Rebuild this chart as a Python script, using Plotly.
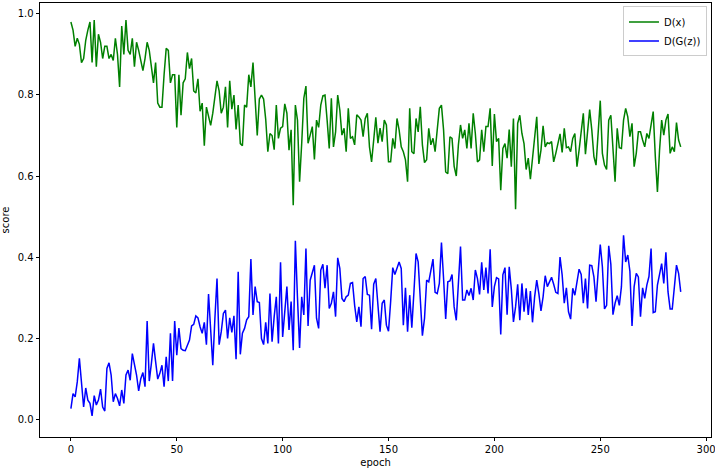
import plotly.graph_objects as go

d_x = [
    0.98, 0.96, 0.92, 0.94, 0.925, 0.88, 0.89, 0.935, 0.96, 0.98,
    0.88, 0.985, 0.87, 0.95, 0.93, 0.89, 0.92, 0.92, 0.89, 0.90,
    0.885, 0.94, 0.90, 0.82, 0.97, 0.90, 0.985, 0.91, 0.90, 0.94,
    0.87, 0.93, 0.91, 0.88, 0.86, 0.89, 0.93, 0.91, 0.87, 0.83,
    0.88, 0.78, 0.77, 0.77, 0.85, 0.915, 0.91, 0.83, 0.85, 0.85,
    0.72, 0.85, 0.75, 0.83, 0.84, 0.905, 0.865, 0.89, 0.81, 0.805,
    0.84, 0.76, 0.78, 0.675, 0.77, 0.75, 0.725, 0.755, 0.79, 0.835,
    0.81, 0.755, 0.77, 0.82, 0.72, 0.835, 0.765, 0.80, 0.715, 0.775,
    0.68, 0.675, 0.775, 0.77, 0.85, 0.82, 0.88, 0.795, 0.70, 0.79,
    0.80, 0.79, 0.74, 0.66, 0.705, 0.70, 0.665, 0.775, 0.693, 0.718,
    0.722, 0.778, 0.755, 0.664, 0.714, 0.528, 0.775, 0.738, 0.586, 0.681,
    0.792, 0.822, 0.681, 0.701, 0.722, 0.641, 0.738, 0.72, 0.775, 0.798,
    0.80, 0.738, 0.668, 0.792, 0.672, 0.709, 0.80, 0.763, 0.701, 0.718,
    0.66, 0.767, 0.693, 0.697, 0.677, 0.751, 0.746, 0.738, 0.697, 0.742,
    0.755, 0.672, 0.635, 0.689, 0.745, 0.681, 0.718, 0.685, 0.738, 0.726,
    0.635, 0.635, 0.693, 0.668, 0.742, 0.714, 0.672, 0.66, 0.64, 0.586,
    0.767, 0.66, 0.655, 0.742, 0.709, 0.771, 0.677, 0.633, 0.64, 0.718,
    0.677, 0.693, 0.66, 0.714, 0.767, 0.775, 0.714, 0.61, 0.606, 0.697,
    0.693, 0.624, 0.60, 0.677, 0.726, 0.693, 0.714, 0.668, 0.73, 0.668,
    0.755, 0.705, 0.635, 0.64, 0.714, 0.66, 0.722, 0.722, 0.767, 0.625,
    0.753, 0.685, 0.693, 0.565, 0.668, 0.68, 0.644, 0.715, 0.623, 0.742,
    0.518, 0.73, 0.75, 0.705, 0.68, 0.616, 0.644, 0.592, 0.648, 0.693,
    0.746, 0.63, 0.664, 0.724, 0.672, 0.682, 0.68, 0.685, 0.635, 0.656,
    0.68, 0.704, 0.658, 0.718, 0.67, 0.672, 0.66, 0.693, 0.705, 0.623,
    0.664, 0.705, 0.755, 0.654, 0.714, 0.764, 0.714, 0.648, 0.627, 0.697,
    0.786, 0.656, 0.627, 0.616, 0.738, 0.75, 0.68, 0.586, 0.718, 0.67,
    0.668, 0.738, 0.767, 0.746, 0.697, 0.73, 0.623, 0.656, 0.709, 0.709,
    0.689, 0.672, 0.705, 0.693, 0.726, 0.759, 0.648, 0.561, 0.664, 0.738,
    0.701, 0.738, 0.753, 0.656, 0.672, 0.66, 0.732, 0.689, 0.672,
]

d_g_z = [
    0.026, 0.063, 0.055, 0.092, 0.15, 0.084, 0.03, 0.077, 0.047, 0.039,
    0.008, 0.058, 0.035, 0.047, 0.074, 0.03, 0.02, 0.125, 0.139, 0.109,
    0.043, 0.063, 0.051, 0.033, 0.072, 0.039, 0.109, 0.121, 0.096, 0.162,
    0.137, 0.109, 0.07, 0.10, 0.115, 0.08, 0.242, 0.094, 0.137, 0.187,
    0.142, 0.099, 0.113, 0.133, 0.08, 0.154, 0.094, 0.212, 0.094, 0.242,
    0.158, 0.225, 0.174, 0.17, 0.169, 0.184, 0.195, 0.23, 0.234, 0.255,
    0.25, 0.228, 0.212, 0.239, 0.184, 0.309, 0.212, 0.133, 0.249, 0.347,
    0.184, 0.216, 0.261, 0.269, 0.199, 0.25, 0.214, 0.255, 0.148, 0.364,
    0.16, 0.212, 0.224, 0.245, 0.253, 0.395, 0.257, 0.327, 0.29, 0.288,
    0.199, 0.184, 0.239, 0.187, 0.31, 0.191, 0.253, 0.302, 0.187, 0.387,
    0.203, 0.265, 0.327, 0.22, 0.29, 0.17, 0.44, 0.30, 0.176, 0.302,
    0.257, 0.421, 0.23, 0.343, 0.36, 0.38, 0.249, 0.224, 0.368, 0.382,
    0.323, 0.38, 0.273, 0.286, 0.314, 0.253, 0.398, 0.372, 0.298, 0.29,
    0.302, 0.306, 0.335, 0.337, 0.281, 0.24, 0.277, 0.228, 0.347, 0.352,
    0.308, 0.306, 0.222, 0.333, 0.347, 0.281, 0.216, 0.286, 0.294, 0.232,
    0.217, 0.29, 0.374, 0.357, 0.374, 0.388, 0.372, 0.232, 0.324, 0.216,
    0.306, 0.226, 0.314, 0.409, 0.388, 0.298, 0.206, 0.249, 0.343, 0.339,
    0.372, 0.395, 0.313, 0.31, 0.335, 0.436, 0.347, 0.247, 0.339, 0.341,
    0.357, 0.277, 0.244, 0.323, 0.426, 0.294, 0.294, 0.319, 0.305, 0.323,
    0.294, 0.368, 0.347, 0.308, 0.387, 0.319, 0.374, 0.31, 0.419, 0.277,
    0.327, 0.349, 0.346, 0.209, 0.356, 0.374, 0.258, 0.376, 0.321, 0.24,
    0.277, 0.333, 0.244, 0.335, 0.265, 0.323, 0.257, 0.316, 0.239, 0.302,
    0.343, 0.31, 0.267, 0.302, 0.354, 0.327, 0.339, 0.35, 0.333, 0.313,
    0.31, 0.40, 0.356, 0.286, 0.324, 0.265, 0.247, 0.323, 0.306, 0.339,
    0.37, 0.357, 0.286, 0.347, 0.273, 0.38, 0.379, 0.351, 0.29, 0.364,
    0.431, 0.376, 0.272, 0.281, 0.428, 0.382, 0.258, 0.286, 0.305, 0.281,
    0.327, 0.454, 0.388, 0.405, 0.365, 0.23, 0.327, 0.36, 0.351, 0.253,
    0.324, 0.298, 0.331, 0.352, 0.421, 0.263, 0.265, 0.331, 0.36, 0.384,
    0.335, 0.412, 0.314, 0.272, 0.272, 0.335, 0.38, 0.36, 0.314,
]

epochs = list(range(len(d_x)))
x_ticks = [0, 50, 100, 150, 200, 250, 300]
y_ticks = [0.0, 0.2, 0.4, 0.6, 0.8, 1.0]
y_tick_labels = ["0.0", "0.2", "0.4", "0.6", "0.8", "1.0"]

FONT = "DejaVu Sans"

fig = go.Figure()
fig.add_trace(go.Scatter(x=epochs, y=d_x, mode="lines", name="D(x)",
                         line=dict(color="green", width=1.5)))
fig.add_trace(go.Scatter(x=epochs, y=d_g_z, mode="lines", name="D(G(z))",
                         line=dict(color="blue", width=1.5)))

axis_common = dict(
    showgrid=False, zeroline=False, showline=True, linecolor="black",
    linewidth=0.8, mirror=True, ticks="outside", ticklen=3.5, tickwidth=0.8,
    tickcolor="black", tickfont=dict(family=FONT, size=10, color="black"),
    automargin=False, ticklabeloverflow="allow",
)

fig.update_layout(
    width=715, height=468,
    margin=dict(l=40, r=4, t=3, b=31),
    paper_bgcolor="white", plot_bgcolor="white",
    font=dict(family=FONT, size=10, color="black"),
    xaxis=dict(range=[-14.6, 302.3], tickvals=x_ticks,
               title=dict(text="epoch", font=dict(family=FONT, size=10), standoff=4),
               **axis_common),
    yaxis=dict(range=[-0.044, 1.027], tickvals=y_ticks, ticktext=y_tick_labels,
               title=dict(text="score", font=dict(family=FONT, size=10), standoff=6),
               **axis_common),
    legend=dict(x=0.994, y=0.992, xanchor="right", yanchor="top",
                bgcolor="rgba(255,255,255,0.8)", bordercolor="#cccccc", borderwidth=1,
                font=dict(family=FONT, size=10), tracegroupgap=0, itemwidth=30),
    showlegend=True,
)

fig.write_html("out.html",
               config={"displayModeBar": False},
               post_script="document.body.style.margin='0';document.body.style.padding='0';")
